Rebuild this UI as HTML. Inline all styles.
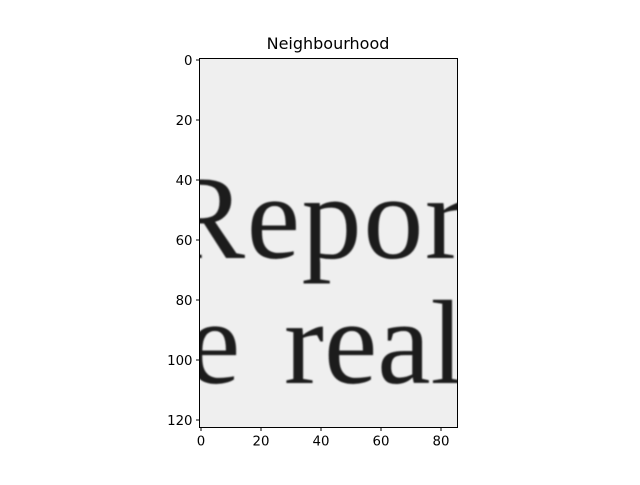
<!DOCTYPE html>
<html><head><meta charset="utf-8"><style>
html,body{margin:0;padding:0;background:#fff;}
svg text{font-family:"DejaVu Sans","Liberation Sans",sans-serif;}
</style></head><body>
<svg width="640" height="480" viewBox="0 0 640 480" xmlns="http://www.w3.org/2000/svg">
<defs>
<clipPath id="ax"><rect x="199.5" y="58.5" width="258" height="369"/></clipPath>
<filter id="bl"><feGaussianBlur stdDeviation="0.8"/></filter>
</defs>
<text x="328" y="49" font-size="16" text-anchor="middle" fill="#000">Neighbourhood</text>
<g clip-path="url(#ax)">
<rect x="199.5" y="58.5" width="258" height="369" fill="#efefef"/>
<g filter="url(#bl)" fill="#1e1e1e" font-size="120">
<text x="165" y="258" textLength="300" style="font-family:'Liberation Serif',serif">Repor</text>
<text x="187" y="383" style="font-family:'Liberation Serif',serif">e</text>
<text x="284" y="383" style="font-family:'Liberation Serif',serif">real</text>
</g>
</g>
<rect x="199.5" y="58.5" width="258" height="369" fill="none" stroke="#000" stroke-width="1"/>
<g id="ticks"></g>
</svg>
<script>
const xTicks=[0,20,40,60,80];
const yTicks=[0,20,40,60,80,100,120];
const xMin=-0.5,xMax=85.5,yMin=-0.5,yMax=122.5;
const L=199.5,R=457.5,T=58.5,B=427.5;
const sx=v=>L+(v-xMin)/(xMax-xMin)*(R-L);
const sy=v=>T+(v-yMin)/(yMax-yMin)*(B-T);
const g=document.getElementById('ticks');
const NS='http://www.w3.org/2000/svg';
xTicks.forEach(v=>{
 const l=document.createElementNS(NS,'line');
 l.setAttribute('x1',sx(v));l.setAttribute('x2',sx(v));l.setAttribute('y1',B);l.setAttribute('y2',B+3.5);l.setAttribute('stroke','#000');
 
 
 g.appendChild(l);
 const t=document.createElementNS(NS,'text');
 t.setAttribute('x',sx(v));t.setAttribute('y',B+18);t.setAttribute('font-size','13.3');t.setAttribute('text-anchor','middle');
 t.textContent=v;
 
 
 g.appendChild(t);
});
yTicks.forEach(v=>{
 const l=document.createElementNS(NS,'line');
 l.setAttribute('x1',L-3.5);l.setAttribute('x2',L);l.setAttribute('y1',sy(v));l.setAttribute('y2',sy(v));l.setAttribute('stroke','#000');
 
 
 g.appendChild(l);
 const t=document.createElementNS(NS,'text');
 t.setAttribute('x',L-7);t.setAttribute('y',sy(v)+4.8);t.setAttribute('font-size','13.3');t.setAttribute('text-anchor','end');
 t.textContent=v;
 
 
 g.appendChild(t);
});
</script>
</body></html>
